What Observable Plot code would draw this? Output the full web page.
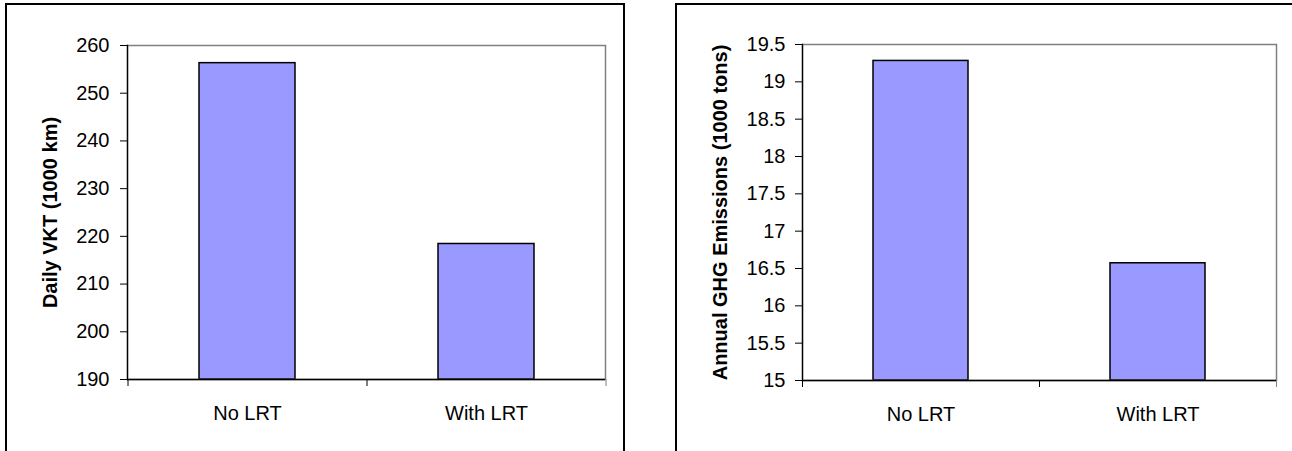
<!DOCTYPE html>
<html>
<head>
<meta charset="utf-8">
<script src="https://cdn.jsdelivr.net/npm/d3@7"></script>
<script src="https://cdn.jsdelivr.net/npm/@observablehq/plot@0.6"></script>
<style>
  html, body { margin: 0; padding: 0; background: #fff; }
  #page { position: relative; width: 1292px; height: 451px; overflow: hidden; background: #fff; }
  .panel { position: absolute; top: 0; }
  .box { position: absolute; top: 3px; height: 540px; border: 2px solid #000; box-sizing: border-box; }
</style>
</head>
<body>
<div id="page">
  <div class="box" style="left:5px;width:620px;"></div>
  <div class="box" style="left:675px;width:700px;"></div>
  <div class="panel" id="left" style="left:0;"></div>
  <div class="panel" id="right" style="left:646px;"></div>
</div>
<script>
// Scenario categories shared by both panels
const categories = ["No LRT", "With LRT"];

// Daily vehicle kilometres travelled (thousand km)
const vktValues = [256.3, 218.4];
const vktTicks = [190, 200, 210, 220, 230, 240, 250, 260];
const vktLabel = "Daily VKT (1000 km)";

// Annual greenhouse-gas emissions (thousand tons)
const ghgValues = [19.28, 16.57];
const ghgTicks = [15, 15.5, 16, 16.5, 17, 17.5, 18, 18.5, 19, 19.5];
const ghgLabel = "Annual GHG Emissions (1000 tons)";

function barPanel({values, ticks, label, width, marginLeft, marginRight, marginTop, marginBottom, tickPadding, titleDx}) {
  const rows = categories.map((cat, i) => ({cat, value: values[i]}));
  const base = ticks[0];
  const step = (width - marginLeft - marginRight) / 2;
  return Plot.plot({
    width,
    height: 451,
    marginLeft, marginRight, marginTop, marginBottom,
    style: {
      fontFamily: '"Liberation Sans", Arial, sans-serif',
      fontSize: "20px",
      color: "#000",
      background: "transparent",
      overflow: "visible"
    },
    x: {type: "band", domain: categories, paddingInner: 0.6, paddingOuter: 0.3, label: null},
    y: {domain: [base, ticks[ticks.length - 1]], label: null},
    marks: [
      Plot.barY(rows, {x: "cat", y1: () => base, y2: "value", fill: "#9999FF", stroke: "#000", strokeWidth: 1.5}),
      Plot.frame({stroke: "#808080", strokeWidth: 1.5}),
      Plot.frame({anchor: "left", stroke: "#000", strokeWidth: 1.3}),
      Plot.ruleY([base], {stroke: "#000", strokeWidth: 1.3}),
      Plot.axisY({ticks, tickSize: 7, tickPadding, tickFormat: d => String(d), fontSize: 20}),
      Plot.axisX({tickSize: 0, tickPadding: 26, fontSize: 20}),
      Plot.axisX({ticks: categories, tickSize: 7, tickFormat: () => "", dx: -step / 2}),
      Plot.axisX({ticks: [categories[1]], tickSize: 7, tickFormat: () => "", dx: step / 2, stroke: "#808080"}),
      Plot.text([label], {text: d => d, frameAnchor: "left", textAnchor: "middle", rotate: -90, dx: titleDx, fontWeight: "bold", fontSize: 20})
    ]
  });
}

document.getElementById("left").append(barPanel({
  values: vktValues, ticks: vktTicks, label: vktLabel,
  width: 646, marginLeft: 127, marginRight: 41, marginTop: 45, marginBottom: 72,
  tickPadding: 11, titleDx: -77
}));

document.getElementById("right").append(barPanel({
  values: ghgValues, ticks: ghgTicks, label: ghgLabel,
  width: 646, marginLeft: 156, marginRight: 16, marginTop: 44, marginBottom: 71,
  tickPadding: 10, titleDx: -82
}));
</script>
</body>
</html>
